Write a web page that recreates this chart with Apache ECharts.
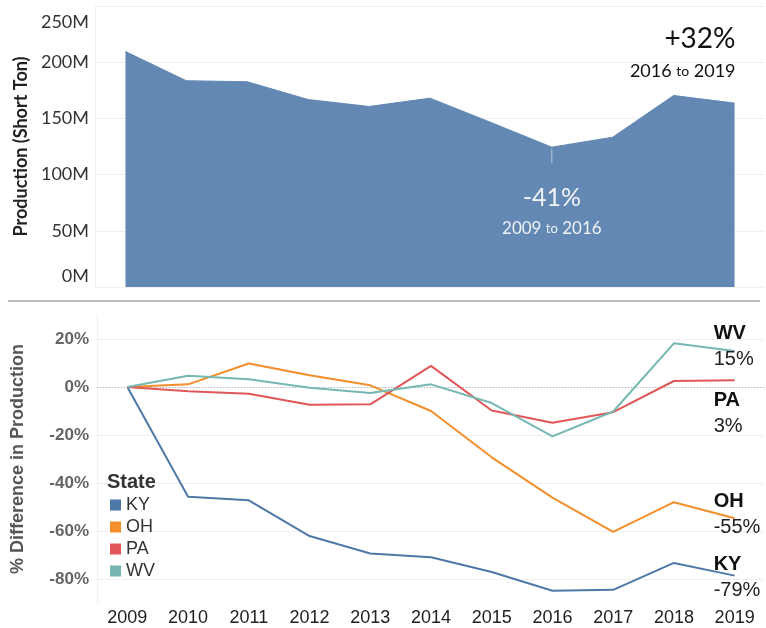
<!DOCTYPE html>
<html>
<head>
<meta charset="utf-8">
<script src="https://cdn.jsdelivr.net/npm/echarts@6/dist/echarts.min.js"></script>
<style>
  html, body { margin: 0; padding: 0; background: #fff; }
  #chart { width: 766px; height: 628px; }
</style>
</head>
<body>
<div id="chart"></div>
<script>
const years = ["2009", "2010", "2011", "2012", "2013", "2014", "2015", "2016", "2017", "2018", "2019"];
// total production, millions of short tons
const production = [209.5, 183.5, 182.6, 166.8, 160.6, 168.0, 146.4, 124.4, 133.3, 170.4, 163.6];
const prodTicks = [0, 50, 100, 150, 200, 250];

const states = ["KY", "OH", "PA", "WV"];
const stateColors = ["#4e79a7", "#f28e2b", "#e15759", "#76b7b2"];
// % difference from 2009
const ky = [0, -0.457, -0.472, -0.621, -0.694, -0.709, -0.771, -0.849, -0.845, -0.733, -0.786];
const oh = [0, 0.011, 0.098, 0.049, 0.007, -0.100, -0.293, -0.461, -0.604, -0.480, -0.547];
const pa = [0, -0.018, -0.028, -0.074, -0.072, 0.088, -0.098, -0.149, -0.105, 0.025, 0.028];
const wv = [0, 0.047, 0.032, -0.003, -0.025, 0.011, -0.067, -0.206, -0.102, 0.182, 0.150];
const pctTicks = [-0.8, -0.6, -0.4, -0.2, 0, 0.2];
// vertical nudge of the end labels
const endLabelShift = [1.5, -3.5, 33, -4.5];

const chart = echarts.init(document.getElementById("chart"));

const iLow = years.indexOf("2016");
const iLast = years.length - 1;
const dropPct = Math.round((production[iLow] / production[0] - 1) * 100);
const risePct = Math.round((production[iLast] / production[iLow] - 1) * 100);

const gridLines = pctTicks.map(t => ({
  yAxis: t,
  lineStyle: t === 0
    ? { color: "#b8b8b8", type: [1, 2], width: 1 }
    : { color: "#f0f0f0", type: "solid", width: 1 }
}));

const stateSeries = [ky, oh, pa, wv].map((vals, i) => ({
  name: states[i],
  type: "line",
  xAxisIndex: 1,
  yAxisIndex: 1,
  data: vals,
  showSymbol: false,
  symbol: "none",
  z: 3,
  lineStyle: { width: 2, color: stateColors[i] },
  itemStyle: { color: stateColors[i] },
  markLine: i === 0 ? {
    silent: true,
    symbol: "none",
    label: { show: false },
    z: 1,
    data: gridLines
  } : undefined,
  markPoint: {
    silent: true,
    symbolSize: 0,
    data: [{
      coord: [years[iLast], vals[iLast]],
      label: {
        show: true,
        position: "inside",
        align: "left",
        verticalAlign: "middle",
        offset: [-21, endLabelShift[i]],
        formatter: "{n|" + states[i] + "}\n{v|" + Math.round(vals[iLast] * 100) + "%}",
        rich: {
          n: { fontFamily: "Liberation Sans", fontWeight: "bold", fontSize: 20, lineHeight: 26, color: "#111" },
          v: { fontFamily: "Liberation Sans", fontSize: 20, lineHeight: 26, color: "#222" }
        }
      }
    }]
  }
}));

const option = {
  animation: false,
  backgroundColor: "#fff",
  title: {
    text: "State",
    left: 107,
    top: 471,
    padding: 0,
    textStyle: { fontFamily: "Liberation Sans", fontWeight: "bold", fontSize: 20, lineHeight: 22, color: "#333" }
  },
  legend: {
    data: states,
    orient: "vertical",
    left: 110,
    top: 496,
    padding: 0,
    icon: "rect",
    itemWidth: 11,
    itemHeight: 11,
    itemGap: 4,
    textStyle: { fontFamily: "Liberation Sans", fontSize: 18, lineHeight: 18, color: "#333" }
  },
  graphic: [{
    type: "line",
    shape: { x1: 8, y1: 301, x2: 760, y2: 301 },
    style: { stroke: "#bdbdbd", lineWidth: 2 },
    silent: true
  }],
  grid: [
    { left: 95, right: 1, top: 6, height: 281 },
    { left: 97, right: 1, top: 315, height: 288 }
  ],
  xAxis: [
    {
      gridIndex: 0,
      type: "category",
      data: years,
      boundaryGap: true,
      axisLine: { show: false },
      axisTick: { show: false },
      axisLabel: { show: false }
    },
    {
      gridIndex: 1,
      type: "category",
      data: years,
      boundaryGap: true,
      axisLine: { show: true, lineStyle: { color: "#ececec" } },
      axisTick: { show: false },
      axisLabel: { margin: 6, fontFamily: "Liberation Sans", fontSize: 18, color: "#222" }
    }
  ],
  yAxis: [
    {
      gridIndex: 0,
      type: "value",
      min: prodTicks[0],
      max: prodTicks[prodTicks.length - 1],
      interval: 50,
      name: "Production (Short Ton)",
      nameLocation: "middle",
      nameGap: 63,
      nameTextStyle: { fontFamily: "Lato", fontWeight: "bold", fontSize: 18, color: "#222" },
      axisLine: { show: true, lineStyle: { color: "#f0f0f0" } },
      axisTick: { show: false },
      splitLine: { lineStyle: { color: "#f0f0f0" } },
      axisLabel: {
        margin: 6,
        fontFamily: "Lato",
        fontSize: 18,
        color: "#333",
        formatter: v => {
          if (v === prodTicks[0]) return "{lo|" + v + "M}";
          if (v === prodTicks[prodTicks.length - 1]) return "{hi|" + v + "M}";
          return v + "M";
        },
        rich: {
          lo: { fontFamily: "Lato", fontSize: 18, color: "#333", padding: [0, 0, 22, 0] },
          hi: { fontFamily: "Lato", fontSize: 18, color: "#333", padding: [32, 0, 0, 0] }
        }
      }
    },
    {
      gridIndex: 1,
      type: "value",
      min: -0.9,
      max: 0.3,
      interval: 0.1,
      name: "% Difference in Production",
      nameLocation: "middle",
      nameGap: 70,
      nameTextStyle: { fontFamily: "Liberation Sans", fontWeight: "bold", fontSize: 18, color: "#555" },
      axisLine: { show: true, lineStyle: { color: "#f0f0f0" } },
      axisTick: { show: false },
      splitLine: { show: false },
      axisLabel: {
        margin: 8,
        fontFamily: "Liberation Sans",
        fontWeight: "bold",
        fontSize: 17,
        color: "#666",
        formatter: v => {
          const p = Math.round(v * 100);
          return pctTicks.some(t => Math.round(t * 100) === p) ? p + "%" : "";
        }
      }
    }
  ],
  series: [
    {
      name: "Production",
      type: "line",
      xAxisIndex: 0,
      yAxisIndex: 0,
      data: production,
      showSymbol: false,
      symbol: "none",
      lineStyle: { width: 1, color: "#6388b4" },
      areaStyle: { color: "#6388b4", opacity: 1 },
      markPoint: {
        silent: true,
        symbolSize: 0,
        data: [
          {
            coord: [years[iLow], production[iLow]],
            symbol: "rect",
            symbolSize: [1, 14],
            symbolOffset: [0, 9],
            itemStyle: { color: "rgba(255,255,255,0.55)" },
            label: { show: false }
          },
          {
            coord: [years[iLow], production[iLow]],
            label: {
              show: true,
              position: "inside",
              align: "center",
              verticalAlign: "middle",
              offset: [0, 66],
              formatter: "{p|" + dropPct + "%}\n{y|" + years[0] + " }{t|to}{y| " + years[iLow] + "}",
              rich: {
                p: { fontFamily: "Lato", fontSize: 25, lineHeight: 31, color: "#f2f4f8", align: "center" },
                y: { fontFamily: "Lato", fontSize: 17, lineHeight: 31, color: "#eef1f6" },
                t: { fontFamily: "Lato", fontSize: 13, lineHeight: 31, color: "#eef1f6" }
              }
            }
          },
          {
            coord: [years[iLast], production[iLast]],
            label: {
              show: true,
              position: "inside",
              align: "right",
              verticalAlign: "middle",
              offset: [1, -48],
              formatter: "{p|+" + risePct + "%}\n{y|" + years[iLow] + " }{t|to}{y| " + years[iLast] + "}",
              rich: {
                p: { fontFamily: "Lato", fontSize: 28, lineHeight: 32, color: "#111", align: "right" },
                y: { fontFamily: "Lato", fontSize: 18, lineHeight: 32, color: "#111" },
                t: { fontFamily: "Lato", fontSize: 14, lineHeight: 32, color: "#111" }
              }
            }
          }
        ]
      }
    }
  ].concat(stateSeries)
};

chart.setOption(option);
</script>
</body>
</html>
